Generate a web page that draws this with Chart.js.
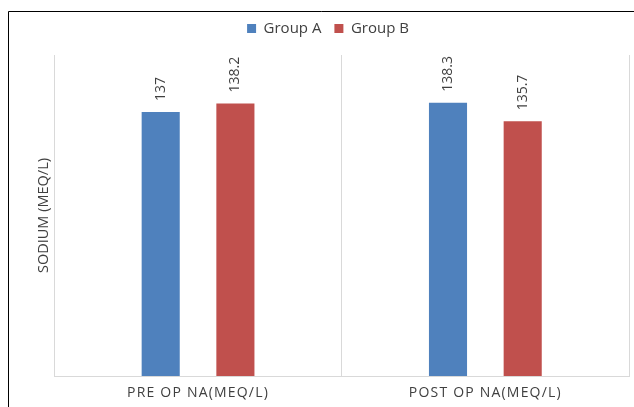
<!DOCTYPE html>
<html>
<head>
<meta charset="utf-8">
<script src="https://cdn.jsdelivr.net/npm/chart.js@4"></script>
<style>
    html, body { margin: 0; padding: 0; background: #fff; }
    #wrap { position: relative; width: 634px; height: 407px; }
</style>
</head>
<body>
<div id="wrap"><canvas id="chart1"></canvas></div>
<script>
const categories = ['PRE OP NA(MEQ/L)', 'POST OP NA(MEQ/L)'];
const groupA = [137, 138.3];
const groupB = [138.2, 135.7];
const seriesNames = ['Group A', 'Group B'];

const textColor = '#404040';
const font = "'Open Sans', sans-serif";

// outer frame of the chart box (left + top edges visible)
const framePlugin = {
    id: 'frame',
    beforeDraw(chart) {
        const ctx = chart.ctx;
        ctx.save();
        ctx.strokeStyle = '#000';
        ctx.lineWidth = 1;
        ctx.beginPath();
        ctx.moveTo(8.5, 407);
        ctx.lineTo(8.5, 11.5);
        ctx.lineTo(634, 11.5);
        ctx.stroke();
        ctx.restore();
    }
};

// value labels, rotated, above each bar
const valueLabels = {
    id: 'valueLabels',
    afterDatasetsDraw(chart) {
        const ctx = chart.ctx;
        chart.data.datasets.forEach((ds, i) => {
            chart.getDatasetMeta(i).data.forEach((bar, j) => {
                ctx.save();
                ctx.translate(bar.x, bar.y - 11);
                ctx.rotate(-Math.PI / 2);
                ctx.font = '14px ' + font;
                ctx.fillStyle = textColor;
                ctx.textAlign = 'left';
                ctx.textBaseline = 'middle';
                ctx.fillText(String(ds.data[j]), 0, 0);
                ctx.restore();
            });
        });
    }
};

// spaced-out x labels, and a taller legend block
const tweaks = {
    id: 'tweaks',
    beforeLayout(chart) {
        const lg = chart.legend;
        if (lg && !lg._tall) {
            const fit = lg.fit.bind(lg);
            lg.fit = function () { fit(); this.height = 47; };
            lg._tall = true;
        }
    },
    afterLayout(chart) {
        const s = chart.scales.x;
        if (s._spaced) return;
        const orig = s.drawLabels.bind(s);
        s.drawLabels = function (area) {
            this.ctx.save();
            this.ctx.letterSpacing = '1.2px';
            orig(area);
            this.ctx.restore();
        };
        s._spaced = true;
    }
};

const ctx1 = document.getElementById('chart1').getContext('2d');
new Chart(ctx1, {
    type: 'bar',
    data: {
        labels: categories,
        datasets: [
            { label: seriesNames[0], data: groupA, backgroundColor: '#4F81BD' },
            { label: seriesNames[1], data: groupB, backgroundColor: '#C0504D' }
        ]
    },
    options: {
        responsive: true,
        maintainAspectRatio: false,
        animation: false,
        categoryPercentage: 0.52,
        barPercentage: 0.51,
        layout: { padding: { left: 27, right: 5, top: 8, bottom: 0 } },
        plugins: {
            legend: {
                position: 'top',
                labels: {
                    boxWidth: 9,
                    boxHeight: 9,
                    padding: 13,
                    color: textColor,
                    font: { family: font, size: 15 }
                }
            },
            tooltip: { enabled: false }
        },
        scales: {
            x: {
                grid: { color: '#d9d9d9', drawTicks: false, offset: true },
                border: { color: '#d9d9d9' },
                ticks: { color: textColor, padding: 9, font: { family: font, size: 14 } },
                afterFit(scale) { scale.height = 31; }
            },
            y: {
                min: 100,
                max: 145,
                grid: { display: false, drawTicks: false },
                border: { display: false },
                ticks: { display: false },
                title: {
                    display: true,
                    text: 'SODIUM (MEQ/L)',
                    color: textColor,
                    font: { family: font, size: 14.5 },
                    padding: { top: 8, bottom: 2 }
                }
            }
        }
    },
    plugins: [framePlugin, valueLabels, tweaks]
});
</script>
</body>
</html>
